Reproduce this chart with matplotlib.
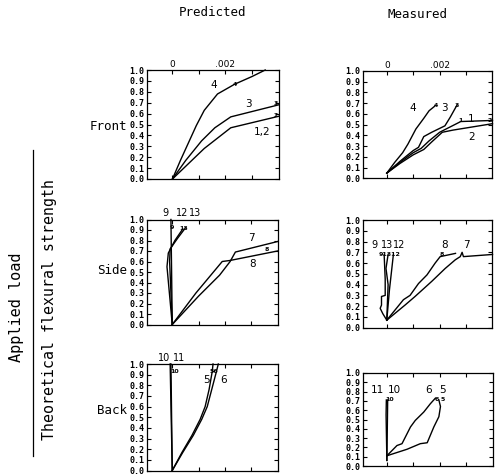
import numpy as np
import matplotlib.pyplot as plt

# strain values (x) and applied load / theoretical flexural strength (y)
# predicted - front
pf12_x = [0, 0.0006, 0.0012, 0.0022, 0.0040]
pf12_y = [0, 0.14, 0.28, 0.47, 0.575]
pf3_x = [0, 0.0005, 0.0011, 0.0016, 0.0022, 0.0040]
pf3_y = [0, 0.17, 0.35, 0.47, 0.57, 0.68]
pf4_x = [0, 0.0003, 0.0006, 0.0009, 0.0012, 0.0017, 0.00235, 0.0030, 0.0035]
pf4_y = [0, 0.17, 0.33, 0.49, 0.63, 0.78, 0.87, 0.94, 1.0]

# predicted - side
ps9_x = [0, -0.00005]
ps9_y = [0, 1.0]
ps12_x = [0, -0.0002, -0.00015, 0.0001, 0.0004]
ps12_y = [0, 0.55, 0.68, 0.80, 0.91]
ps13_x = [0, -0.0001, -0.00008, 0.0002, 0.0005]
ps13_y = [0, 0.60, 0.72, 0.82, 0.92]
ps7_x = [0, 0.0010, 0.0018, 0.0022, 0.0024, 0.0040]
ps7_y = [0, 0.27, 0.47, 0.60, 0.69, 0.79]
ps8_x = [0, 0.0009, 0.0019, 0.0022, 0.0040]
ps8_y = [0, 0.30, 0.60, 0.61, 0.70]

# predicted - back
pb10_x = [0, -0.00005]
pb10_y = [0, 1.0]
pb11_x = [0, -0.00008]
pb11_y = [0, 1.0]
pb5_x = [0, 0.00037, 0.00075, 0.00106, 0.00125, 0.0014, 0.00152, 0.00155]
pb5_y = [0, 0.17, 0.33, 0.48, 0.60, 0.76, 0.93, 1.0]
pb6_x = [0, 0.0004, 0.0008, 0.00112, 0.00133, 0.0015, 0.00168, 0.00175]
pb6_y = [0, 0.17, 0.33, 0.48, 0.60, 0.76, 0.93, 1.0]

# measured - front
mf1_x = [0, 0.0005, 0.0010, 0.0013, 0.0016, 0.0020, 0.0024, 0.0028, 0.0040]
mf1_y = [0.05, 0.15, 0.24, 0.28, 0.35, 0.43, 0.48, 0.53, 0.54]
mf2_x = [0, 0.0005, 0.0010, 0.0014, 0.0017, 0.0021, 0.0025, 0.0040]
mf2_y = [0.05, 0.14, 0.22, 0.27, 0.34, 0.43, 0.45, 0.51]
mf3_x = [0, 0.0005, 0.0010, 0.0012, 0.0014, 0.0017, 0.0022, 0.0024, 0.00265]
mf3_y = [0.05, 0.16, 0.26, 0.29, 0.39, 0.43, 0.49, 0.57, 0.68]
mf4_x = [0, 0.0003, 0.0006, 0.0008, 0.0011, 0.0014, 0.0016, 0.00185]
mf4_y = [0.05, 0.15, 0.24, 0.32, 0.46, 0.56, 0.63, 0.68]

# measured - side
ms9_x = [0, -0.00015, -0.00025, -0.0002, -0.0002, -0.00006, -0.00006, -0.0001]
ms9_y = [0.07, 0.13, 0.18, 0.21, 0.29, 0.30, 0.45, 0.68]
ms13_x = [0, 0.00005, -0.00003, 0.00005]
ms13_y = [0.07, 0.40, 0.55, 0.68]
ms12_x = [0, 0.0001, 0.00025]
ms12_y = [0.07, 0.35, 0.68]
ms8_x = [0, 0.00063, 0.00088, 0.0012, 0.00152, 0.00183, 0.00202, 0.0026]
ms8_y = [0.07, 0.26, 0.30, 0.41, 0.49, 0.60, 0.66, 0.69]
ms7_x = [0, 0.00069, 0.00107, 0.0017, 0.00221, 0.00259, 0.00278, 0.00285, 0.0029, 0.0040]
ms7_y = [0.07, 0.21, 0.29, 0.43, 0.55, 0.63, 0.66, 0.70, 0.66, 0.68]

# measured - back
mb10_x = [0, 0.00003]
mb10_y = [0.06, 0.71]
mb11_x = [0, -0.00003, -0.00002]
mb11_y = [0.06, 0.55, 0.71]
mb5_x = [0, 0.00076, 0.00126, 0.00152, 0.00177, 0.00196, 0.00202, 0.00196]
mb5_y = [0.11, 0.18, 0.24, 0.25, 0.42, 0.53, 0.64, 0.71]
mb6_x = [0, 0.00038, 0.00057, 0.00089, 0.00107, 0.00139, 0.00164, 0.00183]
mb6_y = [0.11, 0.22, 0.24, 0.42, 0.49, 0.58, 0.67, 0.73]

W, H = 499, 475
fig = plt.figure(figsize=(W / 100, H / 100), dpi=100)
mono = "DejaVu Sans Mono"


def box(x0, y0, x1, y1):
    return [x0 / W, 1 - y1 / H, (x1 - x0) / W, (y1 - y0) / H]


def panel(rect, xlim):
    ax = fig.add_axes(box(*rect))
    ax.set_xlim(*xlim)
    ax.set_ylim(0, 1.0)
    ax.set_xticks([0, 0.001, 0.002, 0.003])
    ax.set_xticklabels(["0", "", ".002", ""])
    ax.set_yticks(np.arange(0, 1.01, 0.1))
    ax.set_yticklabels(["%.1f" % v for v in np.arange(0, 1.01, 0.1)],
                       family=mono, fontsize=6, fontweight="bold")
    ax.tick_params(axis="x", direction="in", length=3, width=0.8, top=True,
                   bottom=True, labeltop=True, labelbottom=False, labelsize=6.5, pad=1)
    ax.tick_params(axis="y", direction="in", length=3, width=0.8, left=True,
                   right=True, pad=2)
    for s in ax.spines.values():
        s.set_linewidth(0.9)
    return ax


def curve(ax, x, y):
    ax.plot(x, y, color="black", lw=1.0, clip_on=False)


def lab(ax, x, y, s, size=7.5):
    ax.text(x, y, s, fontsize=size, family="DejaVu Sans", ha="center", va="center")


def tag(ax, x, y, s):
    ax.text(x, y, s, fontsize=4.5, fontweight="bold", ha="center", va="center")


pred_lim = (-0.00096, 0.00402)
meas_lim = (-0.0009, 0.004)

# predicted front
ax = panel((147, 70, 279, 179), pred_lim)
for x, y in [(pf12_x, pf12_y), (pf3_x, pf3_y), (pf4_x, pf4_y)]:
    curve(ax, x, y)
lab(ax, 0.00154, 0.86, "4")
lab(ax, 0.00286, 0.69, "3")
lab(ax, 0.00337, 0.43, "1,2")
tag(ax, 0.00235, 0.87, "4")
tag(ax, 0.0039, 0.69, "3")
tag(ax, 0.0039, 0.58, "2")

# predicted side
ax = panel((147, 219.5, 278, 324.5), pred_lim)
for x, y in [(ps9_x, ps9_y), (ps12_x, ps12_y), (ps13_x, ps13_y), (ps7_x, ps7_y), (ps8_x, ps8_y)]:
    curve(ax, x, y)
ax.set_xticklabels([])
for x, s in [(-0.00027, "9"), (0.00036, "12"), (0.00086, "13")]:
    ax.text(x, 1.01, s, fontsize=7, ha="center", va="bottom")
tag(ax, 0.0, 0.92, "9")
tag(ax, 0.00045, 0.91, "13")
lab(ax, 0.0030, 0.82, "7")
lab(ax, 0.00307, 0.58, "8")
tag(ax, 0.00358, 0.71, "8")

# predicted back
ax = panel((147, 364, 278, 470.5), pred_lim)
for x, y in [(pb10_x, pb10_y), (pb11_x, pb11_y), (pb5_x, pb5_y), (pb6_x, pb6_y)]:
    curve(ax, x, y)
ax.set_xticklabels([])
for x, s in [(-0.0003, "10"), (0.00026, "11")]:
    ax.text(x, 1.01, s, fontsize=7, ha="center", va="bottom")
tag(ax, 0.0001, 0.93, "10")
tag(ax, 0.0016, 0.93, "56")
lab(ax, 0.0013, 0.85, "5")
lab(ax, 0.00196, 0.85, "6")

# measured front
ax = panel((363, 71, 492.5, 178.5), meas_lim)
for x, y in [(mf1_x, mf1_y), (mf2_x, mf2_y), (mf3_x, mf3_y), (mf4_x, mf4_y)]:
    curve(ax, x, y)
lab(ax, 0.0010, 0.66, "4")
lab(ax, 0.0022, 0.66, "3")
lab(ax, 0.0032, 0.55, "1")
lab(ax, 0.0032, 0.39, "2")
tag(ax, 0.00185, 0.68, "4")
tag(ax, 0.00265, 0.68, "3")
tag(ax, 0.0028, 0.54, "1")
tag(ax, 0.0039, 0.54, "2")

# measured side
ax = panel((363, 220, 492.5, 327.7), meas_lim)
for x, y in [(ms9_x, ms9_y), (ms13_x, ms13_y), (ms12_x, ms12_y), (ms8_x, ms8_y), (ms7_x, ms7_y)]:
    curve(ax, x, y)
ax.set_xticklabels([])
lab(ax, -0.00048, 0.77, "9", 7)
lab(ax, 0.0, 0.77, "13", 7)
lab(ax, 0.00048, 0.77, "12", 7)
lab(ax, 0.0022, 0.77, "8")
lab(ax, 0.00303, 0.77, "7")
tag(ax, 0.0001, 0.68, "91312")
tag(ax, 0.0021, 0.68, "8")

# measured back
ax = panel((363, 373, 493, 466), meas_lim)
for x, y in [(mb10_x, mb10_y), (mb11_x, mb11_y), (mb5_x, mb5_y), (mb6_x, mb6_y)]:
    curve(ax, x, y)
ax.set_xticklabels([])
lab(ax, -0.00034, 0.82, "11")
lab(ax, 0.00027, 0.82, "10")
lab(ax, 0.00157, 0.82, "6")
lab(ax, 0.0021, 0.82, "5")
tag(ax, 0.0001, 0.71, "10")
tag(ax, 0.0019, 0.71, "6")
tag(ax, 0.0021, 0.71, "5")

# column / row headings
fig.text(213 / W, 1 - 12 / H, "Predicted", family=mono, fontsize=9, ha="center", va="center")
fig.text(418 / W, 1 - 15 / H, "Measured", family=mono, fontsize=9, ha="center", va="center")
fig.text(108 / W, 1 - 127 / H, "Front", family=mono, fontsize=9, ha="center", va="center")
fig.text(112 / W, 1 - 271 / H, "Side", family=mono, fontsize=9, ha="center", va="center")
fig.text(112 / W, 1 - 411 / H, "Back", family=mono, fontsize=9, ha="center", va="center")

# y-axis label as a fraction
fig.text(17 / W, 1 - 307 / H, "Applied load", family=mono, fontsize=11,
         rotation=90, ha="center", va="center")
fig.text(50 / W, 1 - 310 / H, "Theoretical flexural strength", family=mono,
         fontsize=10.7, rotation=90, ha="center", va="center")
fig.add_artist(plt.Line2D([33 / W, 33 / W], [1 - 150 / H, 1 - 456 / H],
                          color="black", lw=0.9))

fig.savefig("out.png", dpi=100)
